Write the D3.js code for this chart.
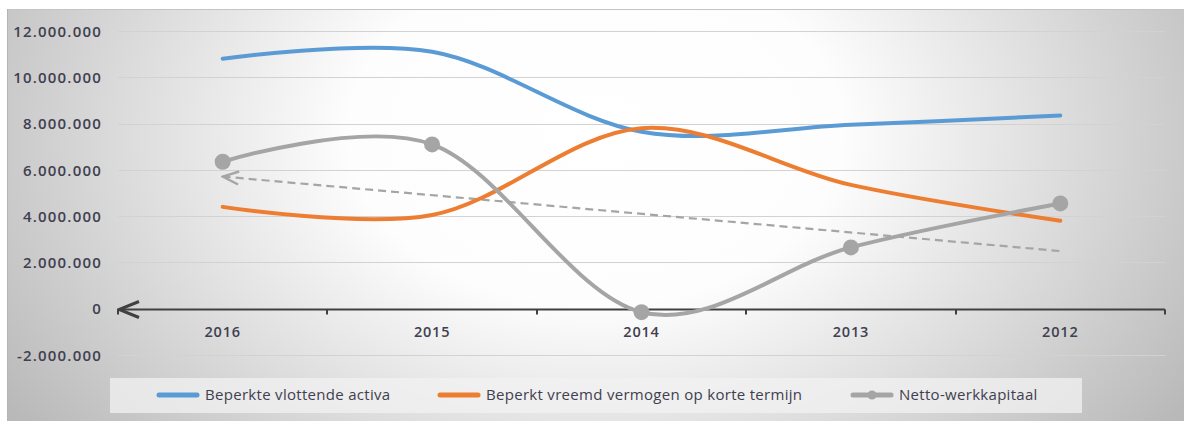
<!DOCTYPE html>
<html>
<head>
<meta charset="utf-8">
<script src="https://cdn.jsdelivr.net/npm/d3@7"></script>
<style>
  html, body { margin: 0; padding: 0; background: #ffffff; }
  svg { display: block; }
  text { font-family: "Open Sans", "Noto Sans", sans-serif; }
</style>
</head>
<body>
<svg id="chart" width="1184" height="421"></svg>
<script>
// Years on the category axis (newest first)
const years = ["2016", "2015", "2014", "2013", "2012"];

// Series values (euro)
const vlottendeActiva = [10800000, 11100000, 7650000, 7950000, 8350000];
const vreemdVermogenKort = [4400000, 4050000, 7800000, 5350000, 3800000];
const nettoWerkkapitaal = [6350000, 7100000, -150000, 2650000, 4550000];

// Value axis ticks
const yTicks = [-2000000, 0, 2000000, 4000000, 6000000, 8000000, 10000000, 12000000];

const seriesNames = [
  "Beperkte vlottende activa",
  "Beperkt vreemd vermogen op korte termijn",
  "Netto-werkkapitaal"
];
const seriesColors = ["#5b9bd5", "#ed7d31", "#a5a5a5"];

const svg = d3.select("#chart");
const area = { x0: 7, y0: 9, x1: 1184, y1: 421 };
const plot = { left: 118, right: 1165, top: 31, bottom: 355 };

// Background: soft radial shading of the chart area
const defs = svg.append("defs");
const grad = defs.append("radialGradient")
  .attr("id", "bg")
  .attr("cx", 0.5).attr("cy", 0.3).attr("r", 0.6)
  .attr("fx", 0.5).attr("fy", 0.3)
  .attr("gradientTransform", "translate(0.5,0.3) scale(1,2) translate(-0.5,-0.3)");
grad.append("stop").attr("offset", "0%").attr("stop-color", "#ffffff");
grad.append("stop").attr("offset", "35%").attr("stop-color", "#fdfdfd");
grad.append("stop").attr("offset", "100%").attr("stop-color", "#b9b9b9");

svg.append("rect")
  .attr("x", area.x0).attr("y", area.y0)
  .attr("width", area.x1 - area.x0).attr("height", area.y1 - area.y0)
  .attr("fill", "url(#bg)");
svg.append("line")
  .attr("x1", area.x0).attr("x2", area.x1)
  .attr("y1", area.y0 + 0.5).attr("y2", area.y0 + 0.5)
  .attr("stroke", "#c4c4c4").attr("stroke-width", 1);
svg.append("line")
  .attr("x1", area.x0 + 0.5).attr("x2", area.x0 + 0.5)
  .attr("y1", area.y0).attr("y2", area.y1)
  .attr("stroke", "#b4b4b4").attr("stroke-width", 1);

// Scales
const x = d3.scaleBand().domain(years).range([plot.left, plot.right]);
const y = d3.scaleLinear().domain([-2000000, 12000000]).range([plot.bottom, plot.top]);

// Open arrowheads for the category axis and the trend line
function addArrow(id, color, len, half, width) {
  defs.append("marker")
    .attr("id", id)
    .attr("viewBox", `0 0 ${len + 4} ${2 * half + 4}`)
    .attr("refX", 2).attr("refY", half + 2)
    .attr("markerWidth", len + 4).attr("markerHeight", 2 * half + 4)
    .attr("markerUnits", "userSpaceOnUse")
    .attr("orient", "auto")
    .append("path")
    .attr("d", `M${len + 2},2 L2,${half + 2} L${len + 2},${2 * half + 2}`)
    .attr("fill", "none")
    .attr("stroke", color)
    .attr("stroke-width", width)
    .attr("stroke-linejoin", "miter");
}
addArrow("axisArrow", "#404040", 20, 8, 3);
addArrow("trendArrow", "#a5a5a5", 16, 6.5, 2.4);

// Horizontal gridlines
const fmt = v => d3.format(",")(v).replace(/,/g, ".").replace("\u2212", "-");
svg.append("g")
  .selectAll("line")
  .data(yTicks.filter(t => t !== 0))
  .join("line")
  .attr("x1", plot.left).attr("x2", plot.right)
  .attr("y1", d => Math.round(y(d)) + 0.5).attr("y2", d => Math.round(y(d)) + 0.5)
  .attr("stroke", "#d2d2d2").attr("stroke-width", 1);

// Value axis labels
const yAxis = d3.axisLeft(y).tickValues(yTicks).tickFormat(fmt).tickSize(0).tickPadding(0);
const yG = svg.append("g").attr("transform", `translate(${plot.left - 16},0)`).call(yAxis);
yG.select(".domain").remove();
yG.selectAll("text")
  .attr("fill", "#404050")
  .attr("font-size", 15)
  .attr("font-weight", 600)
  .attr("letter-spacing", 1.2)
  .attr("dy", "0.35em");

// Category axis on the zero line
const zeroY = Math.round(y(0)) + 0.5;
const xAxis = d3.axisBottom(x).tickSize(0).tickPadding(17);
const xG = svg.append("g").attr("transform", `translate(0,${zeroY})`).call(xAxis);
xG.select(".domain").remove();
xG.selectAll(".tick line").remove();
xG.selectAll("text")
  .attr("fill", "#404050")
  .attr("font-size", 14.5)
  .attr("font-weight", 600)
  .attr("letter-spacing", 0.8);

const tickXs = years.map(d => x(d)).concat([plot.right]);
svg.append("g")
  .selectAll("line")
  .data(tickXs)
  .join("line")
  .attr("x1", d => Math.round(d)).attr("x2", d => Math.round(d))
  .attr("y1", zeroY).attr("y2", zeroY + 5)
  .attr("stroke", "#404040").attr("stroke-width", 2);
svg.append("line")
  .attr("x1", plot.left + 1).attr("x2", plot.right)
  .attr("y1", zeroY).attr("y2", zeroY)
  .attr("stroke", "#404040").attr("stroke-width", 2.2)
  .attr("marker-start", "url(#axisArrow)");

// Linear trend of Netto-werkkapitaal (least squares over category index)
const n = nettoWerkkapitaal.length;
const idx = d3.range(n);
const mx = d3.mean(idx), my = d3.mean(nettoWerkkapitaal);
const slope = d3.sum(idx, i => (i - mx) * (nettoWerkkapitaal[i] - my)) / d3.sum(idx, i => (i - mx) ** 2);
const trendAt = i => my + slope * (i - mx);
const cx = d => x(d) + x.bandwidth() / 2;

svg.append("line")
  .attr("x1", cx(years[0])).attr("y1", y(trendAt(0)))
  .attr("x2", cx(years[n - 1])).attr("y2", y(trendAt(n - 1)))
  .attr("stroke", "#a5a5a5").attr("stroke-width", 2.2)
  .attr("stroke-dasharray", "8,5")
  .attr("marker-start", "url(#trendArrow)");

// Smoothed series lines
const allSeries = [vlottendeActiva, vreemdVermogenKort, nettoWerkkapitaal];
const line = d3.line()
  .x((d, i) => cx(years[i]))
  .y(d => y(d))
  .curve(d3.curveCardinal.tension(0));

svg.append("g")
  .selectAll("path")
  .data(allSeries)
  .join("path")
  .attr("d", d => line(d))
  .attr("fill", "none")
  .attr("stroke", (d, i) => seriesColors[i])
  .attr("stroke-width", 4)
  .attr("stroke-linecap", "round");

// Markers on Netto-werkkapitaal
svg.append("g")
  .selectAll("circle")
  .data(nettoWerkkapitaal)
  .join("circle")
  .attr("cx", (d, i) => cx(years[i]))
  .attr("cy", d => y(d))
  .attr("r", 8)
  .attr("fill", "#a5a5a5");

// Legend
const legend = svg.append("g");
legend.append("rect")
  .attr("x", 110).attr("y", 378).attr("width", 972).attr("height", 35)
  .attr("fill", "#f2f2f2").attr("fill-opacity", 0.75);
const legendX = [157, 438, 851];
seriesNames.forEach((name, i) => {
  const g = legend.append("g").attr("transform", `translate(${legendX[i]},395)`);
  g.append("line")
    .attr("x1", 2).attr("x2", 40).attr("y1", 0).attr("y2", 0)
    .attr("stroke", seriesColors[i]).attr("stroke-width", 5)
    .attr("stroke-linecap", "round");
  if (i === 2) {
    g.append("circle").attr("cx", 21).attr("cy", 0).attr("r", 4.5).attr("fill", seriesColors[i]);
  }
  g.append("text")
    .attr("x", 48).attr("y", 0).attr("dy", "0.35em")
    .attr("fill", "#404050")
    .attr("font-size", 15)
    .attr("letter-spacing", 0.3)
    .text(name);
});
</script>
</body>
</html>
